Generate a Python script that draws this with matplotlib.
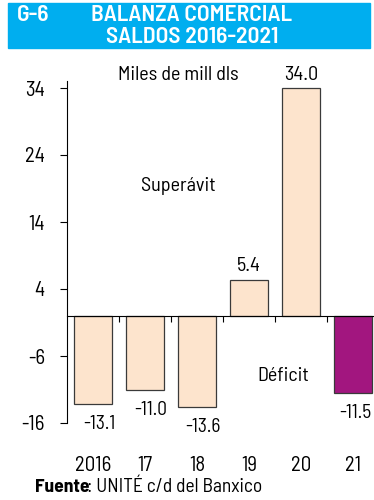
import matplotlib
matplotlib.use("Agg")
import matplotlib.pyplot as plt
from matplotlib.patches import Rectangle

# data
years = ["2016", "17", "18", "19", "20", "21"]
saldos = [-13.1, -11.0, -13.6, 5.4, 34.0, -11.5]
etiquetas = ["-13.1", "-11.0", "-13.6", "5.4", "34.0", "-11.5"]
yticks = [34, 24, 14, 4, -6, -16]

fam = ["Barlow Semi Condensed", "DejaVu Sans"]
plt.rcParams["font.family"] = fam

fig = plt.figure(figsize=(3.74, 5.0), dpi=100)

# title band
fig.patches.append(Rectangle((8/374, 1-48/500), 362/374, 45/500,
                             transform=fig.transFigure, color="#00AEEF", zorder=0))
fig.text(17/374, 1-15/500, "G-6", color="white", fontsize=17, fontweight="semibold",
         va="center", ha="left")
fig.text(192/374, 1-15/500, "BALANZA COMERCIAL", color="white", fontsize=17,
         fontweight="semibold", va="center", ha="center")
fig.text(192/374, 1-37/500, "SALDOS 2016-2021", color="white", fontsize=17,
         fontweight="semibold", va="center", ha="center")

# axes: x -0.5..5.5 -> px 67..379 ; y -16..35
ax = fig.add_axes([67/374, 1-423/500, 312/374, (423-81.3)/500])
ax.set_xlim(-0.5, 5.5)
ax.set_ylim(-16, 35)

colores = ["#FDE4CD"] * 5 + ["#A2167F"]
x = list(range(len(years)))
ax.bar(x, saldos, width=0.73, color=colores, edgecolor="#3a3a3a", linewidth=0.9, zorder=2)

for i, v in enumerate(saldos):
    if v >= 0:
        ax.text(i, v + 2.0, etiquetas[i], ha="center", va="center", fontsize=14.5)
    else:
        dx = 0.05 if i == len(saldos) - 1 else 0.12
        ax.text(i + dx, v - 3.0, etiquetas[i], ha="center", va="center", fontsize=14)

ax.spines["top"].set_visible(False)
ax.spines["right"].set_visible(False)
ax.spines["bottom"].set_position(("data", 0))
ax.spines["bottom"].set_zorder(3)
ax.spines["left"].set_bounds(-16, 35)

ax.set_yticks(yticks)
ax.set_yticklabels([str(t) for t in yticks], fontsize=15)
ax.tick_params(axis="y", length=5, width=0.8, pad=11)
ax.set_xticks([i + 0.5 for i in range(5)])
ax.set_xticklabels([])
ax.tick_params(axis="x", length=4, width=0.8, direction="out")

for i, yr in enumerate(years):
    ax.text(i, -22.3, yr, ha="center", va="center", fontsize=15, clip_on=False)

ax.text(1.65, 36.0, "Miles de mill dls", ha="center", va="center", fontsize=14.5)
ax.text(1.65, 19.3, "Superávit", ha="center", va="center", fontsize=14.5)
ax.text(3.65, -9.0, "Déficit", ha="center", va="center", fontsize=14.5)

fig.text(35/374, 1-487/500, "Fuente", fontsize=14, fontweight="bold", va="center")
fig.text(87/374, 1-487/500, ": UNITÉ c/d del Banxico", fontsize=14, va="center")

fig.savefig("out.png", dpi=100)
